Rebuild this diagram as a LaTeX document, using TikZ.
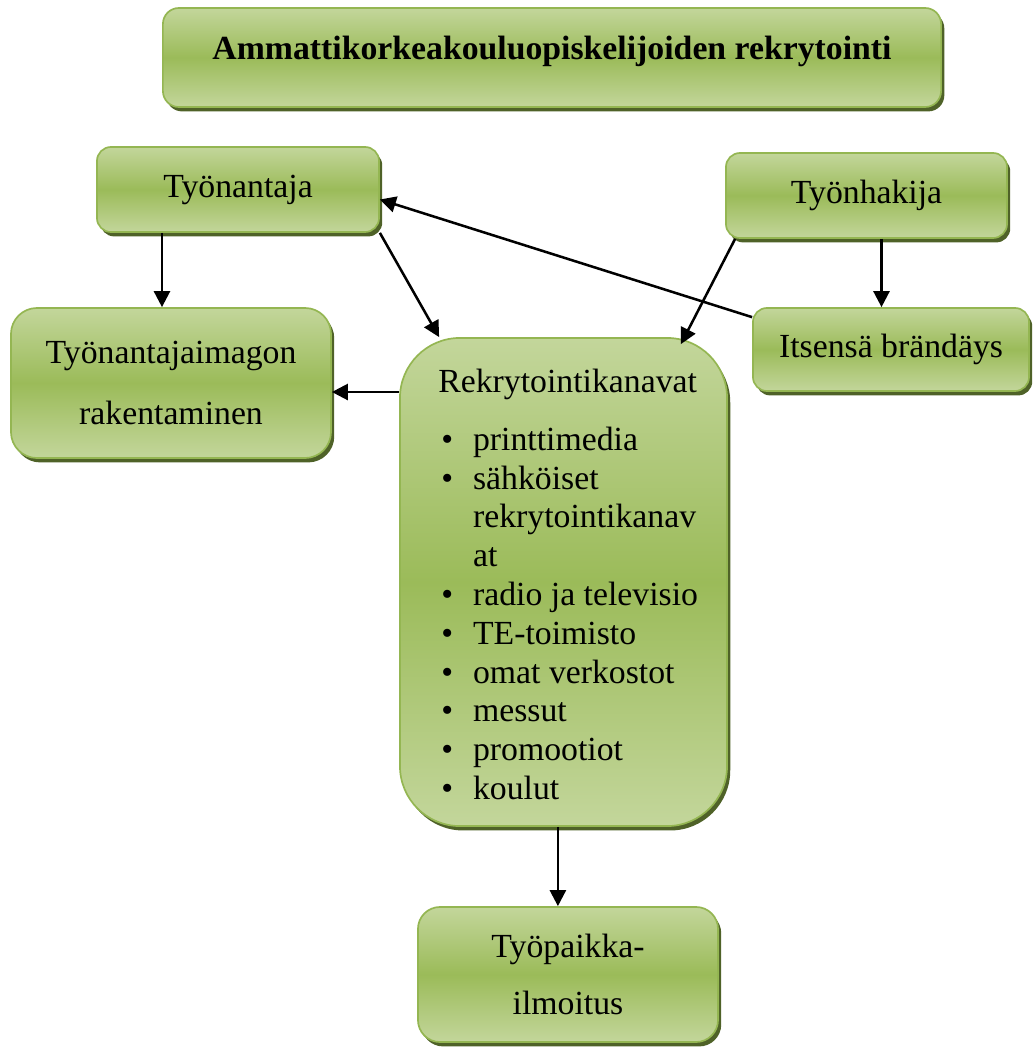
\documentclass[tikz,border=0pt]{standalone}
\usepackage{fontspec}
\setmainfont{Liberation Serif}
\usetikzlibrary{arrows.meta,shadows}

\definecolor{vaalea}{RGB}{195,214,155}
\definecolor{keski}{RGB}{155,187,89}
\definecolor{reuna}{RGB}{148,182,82}
\definecolor{varjo}{RGB}{79,98,40}

\tikzset{
  laatikko/.style={draw=reuna, line width=1.2pt, rounded corners=0.35cm,
    top color=vaalea, bottom color=vaalea, middle color=keski,
    drop shadow={shadow xshift=0.08cm, shadow yshift=-0.11cm, fill=varjo, opacity=1},
    font=\fontsize{24}{28}\selectfont, align=center, inner sep=0pt},
  nuoli/.style={-{Triangle[length=0.4cm,width=0.4cm]}, line width=1.8pt}
}

\begin{document}
\begin{tikzpicture}[x=0.025cm, y=-0.025cm]
   \useasboundingbox (0,0) rectangle (1033,1047);
   \node[laatikko, minimum width=19.45cm, minimum height=2.475cm, rounded corners=0.4cm,
         font=\fontsize{24}{28}\selectfont\bfseries, text depth=0.5cm] (otsikko) at (552,57.5)
         {Ammattikorkeakouluopiskelijoiden rekrytointi};
   \node[laatikko, minimum width=7.05cm, minimum height=2.125cm] (tyonantaja) at (238,189.5) {Työnantaja};
   \node[laatikko, minimum width=7.025cm, minimum height=2.125cm] (tyonhakija) at (866.5,195.5) {Työnhakija};
   \node[laatikko, minimum width=8cm, minimum height=3.75cm, rounded corners=0.65cm,
         font=\fontsize{24}{43}\selectfont] (imago) at (171,383) {Työnantajaimagon\\rakentaminen};
   \node[laatikko, minimum width=6.9cm, minimum height=2.075cm] (brandays) at (891,349.5) {Itsensä brändäys};
   \node[laatikko, minimum width=8.175cm, minimum height=12.2cm, rounded corners=1.5cm] (kanavat) at (563.5,582) {};
   \node[laatikko, minimum width=7.5cm, minimum height=3.375cm, rounded corners=0.55cm,
         font=\fontsize{24}{41}\selectfont] (ilmoitus) at (568,974.5) {Työpaikka-\\ilmoitus};
   % kanavat list
   \node[anchor=north west, inner sep=0pt, font=\fontsize{24}{27.6}\selectfont] (lista) at (438,365) {%
     \begin{tabular}{@{\hspace{0.075cm}}l@{\hspace{0.5cm}}l@{}}
       \multicolumn{2}{@{}l@{}}{Rekrytointikanavat}\\[13.5pt]
       \textbullet & printtimedia\\
       \textbullet & sähköiset\\
                   & rekrytointikanav\\
                   & at\\
       \textbullet & radio ja televisio\\
       \textbullet & TE-toimisto\\
       \textbullet & omat verkostot\\
       \textbullet & messut\\
       \textbullet & promootiot\\
       \textbullet & koulut
     \end{tabular}};
   \draw[nuoli] ([xshift=-1.9cm]tyonantaja.south) -- ([xshift=-1.9cm]tyonantaja.south |- imago.north);
   \draw[nuoli] (tyonantaja.south east) -- ([xshift=1cm]kanavat.north west);
   \draw[nuoli] ([xshift=0.25cm]tyonhakija.south west) -- ([xshift=-1.175cm,yshift=-0.175cm]kanavat.north east);
   \draw[nuoli] ([xshift=0.375cm]tyonhakija.south) -- ([xshift=0.375cm]tyonhakija.south |- brandays.north);
   \draw[nuoli] ([yshift=-0.25cm]brandays.north west) -- ([yshift=-0.25cm]tyonantaja.east);
   \draw[nuoli] ([yshift=-0.225cm]imago.east -| kanavat.west) -- ([yshift=-0.225cm]imago.east);
   \draw[nuoli] ([xshift=-0.14cm]kanavat.south) -- ([xshift=-0.14cm]kanavat.south |- ilmoitus.north);
\end{tikzpicture}
\end{document}
